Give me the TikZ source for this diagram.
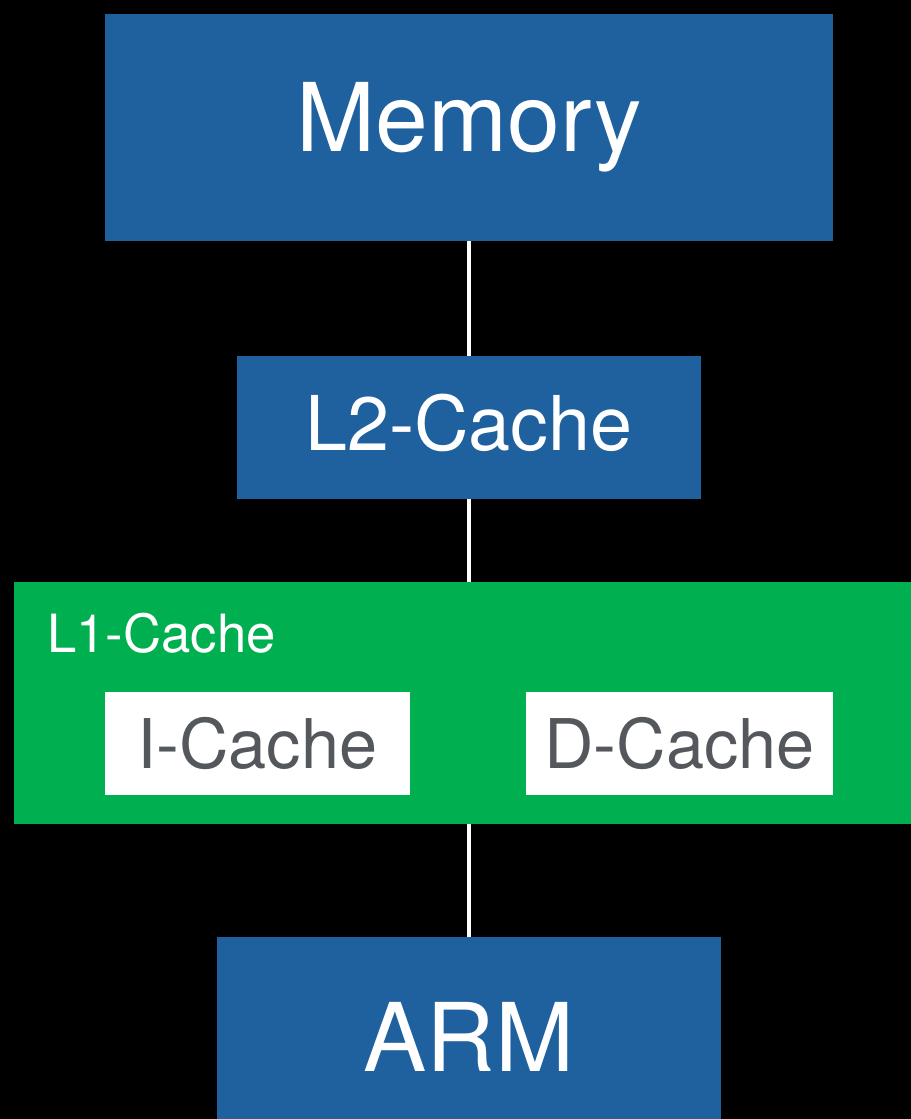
\documentclass[tikz,border=0pt]{standalone}
\usepackage{fontspec}
\setmainfont{TeX Gyre Heros}

\definecolor{memblue}{RGB}{31,96,158}
\definecolor{cachegreen}{RGB}{0,175,80}
\definecolor{textgray}{RGB}{84,88,92}

\begin{document}
\begin{tikzpicture}[x=0.02cm,y=-0.02cm,
  box/.style={rectangle, inner sep=0pt, outer sep=0pt, fill=memblue, text=white},
  subbox/.style={rectangle, inner sep=0pt, outer sep=0pt, fill=white, text=textgray,
    minimum height=2.06cm, font=\fontsize{39}{44}\selectfont},
  link/.style={draw=white, line width=2.3pt}]

  % Canvas (black background)
  \useasboundingbox (0,0) rectangle (911,1119);
  \fill[black] (0,0) rectangle (911,1119);
  \clip (0,0) rectangle (911,1119);

  % Main memory
  \node[box, minimum width=14.58cm, minimum height=4.54cm,
    font=\fontsize{54}{60}\selectfont] (mem) at (469,127.5) {Memory};

  % Second level cache
  \node[box, minimum width=9.3cm, minimum height=2.86cm, text depth=5.4pt,
    font=\fontsize{43}{48}\selectfont] (l2) at (469,427.5) {L2-Cache};

  % First level cache (green), runs off the right edge
  \fill[cachegreen] (14,582) rectangle (930,824);
  \coordinate (l1top) at (469,582);
  \coordinate (l1bot) at (469,824);
  \node[anchor=base west, text=white, inner sep=0pt,
    font=\fontsize{30}{36}\selectfont] (l1label) at (47,652) {L1-Cache};
  \node[subbox, minimum width=6.1cm] (icache) at (257.5,743.5) {I-Cache};
  \node[subbox, minimum width=6.14cm] (dcache) at (679.5,743.5) {D-Cache};

  % Processor, runs off the bottom edge
  \node[box, minimum width=10.1cm, minimum height=4cm,
    font=\fontsize{54}{60}\selectfont] (arm) at (469,1037) {ARM};

  % Connections
  \draw[link] (mem.south) -- (l2.north);
  \draw[link] (l2.south) -- (l1top);
  \draw[link] (l1bot) -- (arm.north);

\end{tikzpicture}
\end{document}
